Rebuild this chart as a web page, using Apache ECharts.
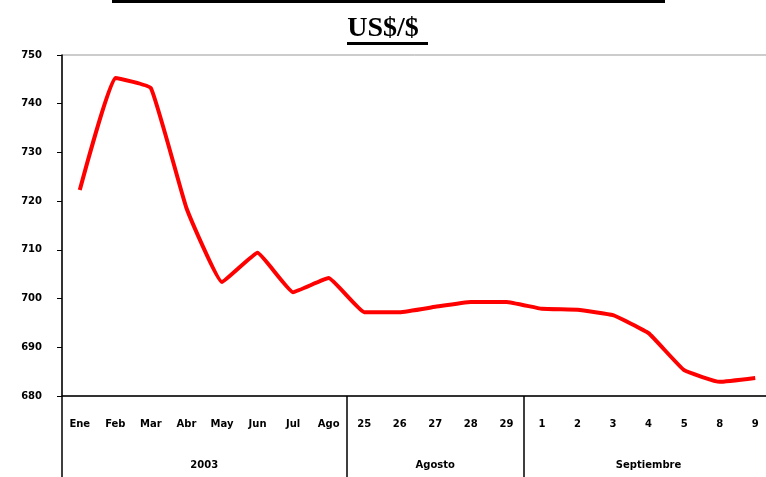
<!DOCTYPE html>
<html>
<head>
<meta charset="utf-8">
<script src="https://cdn.jsdelivr.net/npm/echarts@6/dist/echarts.min.js"></script>
<style>
    html, body {
        margin: 0;
        padding: 0;
        background: #fff;
    }
    #chart {
        width: 766px;
        height: 477px;
    }
</style>
</head>
<body>
<div id="chart"></div>
<script>
// tipo de cambio US$/$
const categories = ['Ene', 'Feb', 'Mar', 'Abr', 'May', 'Jun', 'Jul', 'Ago',
    '25', '26', '27', '28', '29',
    '1', '2', '3', '4', '5', '8', '9']
const values = [722.3, 745.3, 743.2, 718.6, 703.4, 709.4, 701.3, 704.2,
    697.2, 697.2, 698.3, 699.3, 699.3,
    697.9, 697.7, 696.6, 692.9, 685.3, 682.9, 683.7]
const groupLabels = ['2003', 'Agosto', 'Septiembre']
const groupSpans = [8, 5, 7]
const yTicks = [680, 690, 700, 710, 720, 730, 740, 750]

// eje de grupos: 2 posiciones por categoria (bordes y centros)
const halfSlots = new Array(categories.length * 2 + 1).fill('')
const dividers = [0]
let start = 0
groupSpans.forEach((span, i) => {
    halfSlots[start * 2 + span] = groupLabels[i]
    start += span
    dividers.push(start * 2)
})

const chart = echarts.init(document.getElementById('chart'))

const option = {
    animation: false,
    title: {
        text: 'US$/$',
        left: 'center',
        top: 10,
        textStyle: {
            fontFamily: 'Liberation Serif',
            fontWeight: 'bold',
            fontSize: 28,
            color: '#000',
        },
    },
    graphic: [
        { type: 'rect', left: 112, top: 0, shape: { width: 553, height: 3 }, style: { fill: '#000' } },
        { type: 'rect', left: 347, top: 42, shape: { width: 81, height: 3 }, style: { fill: '#000' } },
    ],
    grid: {
        left: 62,
        top: 55,
        width: 711,
        height: 341,
        outerBoundsMode: 'none',
        containLabel: false,
        show: true,
        borderColor: '#999',
        borderWidth: 1,
    },
    xAxis: [
        {
            type: 'category',
            data: categories,
            boundaryGap: true,
            axisLine: { lineStyle: { color: '#000', width: 1.5 } },
            axisTick: { show: false },
            axisLabel: {
                interval: 0,
                margin: 23,
                color: '#000',
                fontFamily: 'DejaVu Sans',
                fontWeight: 'bold',
                fontSize: 10,
            },
        },
        {
            type: 'category',
            data: halfSlots,
            boundaryGap: false,
            position: 'bottom',
            axisLine: { show: false },
            axisTick: {
                show: true,
                length: 90,
                interval: (idx) => dividers.includes(idx),
                lineStyle: { color: '#000', width: 1.5 },
            },
            axisLabel: {
                interval: 0,
                margin: 64,
                color: '#000',
                fontFamily: 'DejaVu Sans',
                fontWeight: 'bold',
                fontSize: 10,
            },
        },
    ],
    yAxis: {
        type: 'value',
        min: yTicks[0],
        max: yTicks[yTicks.length - 1],
        interval: 10,
        axisLine: { show: true, lineStyle: { color: '#000', width: 1.5 } },
        axisTick: { show: true, length: 5, lineStyle: { color: '#000' } },
        splitLine: { show: false },
        axisLabel: {
            margin: 20,
            color: '#000',
            fontFamily: 'DejaVu Sans',
            fontWeight: 'bold',
            fontSize: 10,
        },
    },
    series: [
        {
            type: 'line',
            data: values,
            smooth: 0.1,
            symbol: 'none',
            lineStyle: { color: '#ff0000', width: 4 },
        },
    ],
}

chart.setOption(option)
</script>
</body>
</html>
